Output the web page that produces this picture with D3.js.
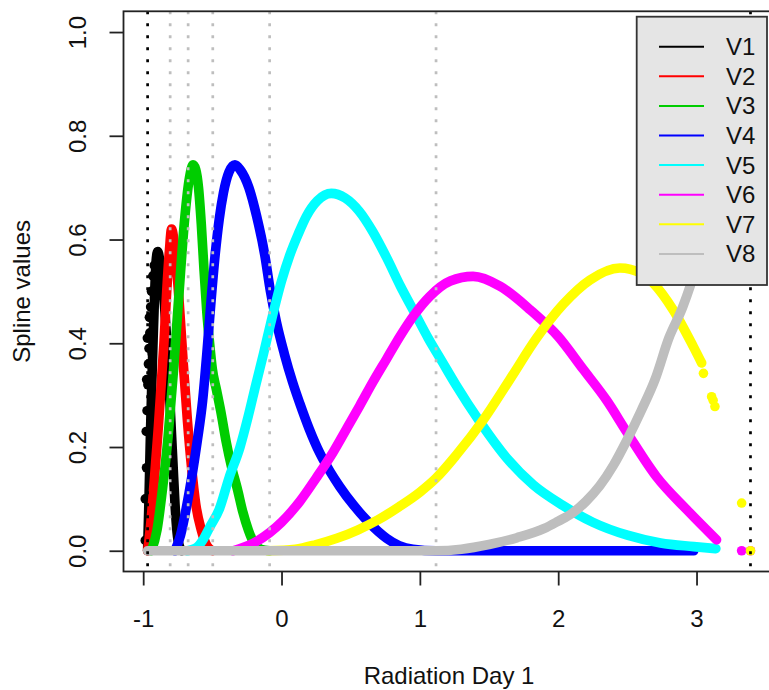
<!DOCTYPE html>
<html>
<head>
<meta charset="utf-8">
<script src="https://cdn.jsdelivr.net/npm/d3@7/dist/d3.min.js"></script>
<style>
  body { margin: 0; background: #fff; }
  text { font-family: "Liberation Sans", Arial, sans-serif; fill: #111; }
</style>
</head>
<body>
<script>
var w = 769
var h = 690

// spline basis values, [x, y]
var seriesNames = ["V1", "V2", "V3", "V4", "V5", "V6", "V7", "V8"]
var seriesColors = ["#000000", "#ff0000", "#00cd00", "#0000ff", "#00ffff", "#ff00ff", "#ffff00", "#bebebe"]

var v1 = [[-0.968,0],[-0.958,0.10],[-0.948,0.22],[-0.938,0.32],[-0.928,0.41],[-0.918,0.49],[-0.906,0.56],
  [-0.895,0.577],[-0.88,0.56],[-0.86,0.52],[-0.84,0.45],[-0.82,0.36],[-0.80,0.25],[-0.785,0.17],
  [-0.77,0.09],[-0.755,0.035],[-0.74,0.01],[-0.72,0]]
var v1Dots = [[-0.985,0.10],[-0.978,0.23],[-0.972,0.27],[-0.966,0.32],[-0.962,0.36],[-0.958,0.39],
  [-0.952,0.42],[-0.946,0.47],[-0.94,0.50],[-0.985,0.02],[-0.976,0.16],[-0.97,0.41],[-0.975,0.33],
  [-0.93,0.53],[-0.92,0.55],[-0.955,0.45],[-0.935,0.38],[-0.925,0.30]]
var v2 = [[-0.968,0],[-0.95,0.04],[-0.93,0.10],[-0.91,0.17],[-0.89,0.24],[-0.87,0.32],[-0.85,0.40],
  [-0.83,0.50],[-0.81,0.58],[-0.795,0.62],[-0.77,0.58],[-0.74,0.48],[-0.71,0.36],[-0.68,0.25],
  [-0.65,0.16],[-0.62,0.09],[-0.58,0.04],[-0.54,0.01],[-0.50,0]]
var v3 = [[-0.94,0],[-0.90,0.04],[-0.86,0.12],[-0.82,0.22],[-0.78,0.35],[-0.74,0.50],[-0.70,0.64],
  [-0.665,0.72],[-0.64,0.744],[-0.62,0.735],[-0.60,0.70],[-0.58,0.63],[-0.56,0.54],[-0.54,0.46],
  [-0.52,0.40],[-0.50,0.35],[-0.47,0.31],[-0.44,0.27],[-0.40,0.21],[-0.36,0.16],[-0.32,0.12],
  [-0.28,0.075],[-0.24,0.04],[-0.20,0.015],[-0.15,0.003],[-0.086,0]]
var v4 = [[-0.77,0],[-0.73,0.03],[-0.69,0.08],[-0.65,0.14],[-0.61,0.21],[-0.57,0.29],[-0.54,0.38],
  [-0.51,0.48],[-0.48,0.57],[-0.45,0.64],[-0.42,0.69],[-0.38,0.73],[-0.337,0.744],[-0.30,0.735],
  [-0.236,0.70],[-0.18,0.645],[-0.121,0.57],[-0.08,0.50],[-0.036,0.44],[0.02,0.38],[0.08,0.325],
  [0.132,0.284],[0.20,0.235],[0.277,0.188],[0.35,0.153],[0.42,0.124],[0.52,0.088],[0.615,0.059],
  [0.70,0.037],[0.76,0.024],[0.85,0.01],[0.95,0.003],[1.117,0],[2.0,0],[2.98,0]]
var v5 = [[-0.68,0],[-0.62,0.005],[-0.57,0.02],[-0.52,0.045],[-0.45,0.08],[-0.38,0.14],[-0.30,0.20],
  [-0.24,0.26],[-0.186,0.32],[-0.13,0.38],[-0.077,0.44],[0.0,0.52],[0.06,0.57],[0.12,0.61],
  [0.18,0.645],[0.26,0.675],[0.36,0.689],[0.46,0.68],[0.56,0.655],[0.66,0.615],[0.76,0.565],
  [0.86,0.51],[0.96,0.46],[1.06,0.41],[1.16,0.365],[1.26,0.32],[1.43,0.25],[1.63,0.178],
  [1.82,0.127],[2.03,0.088],[2.25,0.055],[2.5,0.03],[2.74,0.015],[2.98,0.008],[3.14,0.004]]
var v6 = [[-0.35,0],[-0.2,0.015],[-0.086,0.035],[0.0,0.055],[0.132,0.095],[0.25,0.14],[0.373,0.19],
  [0.47,0.235],[0.566,0.28],[0.66,0.325],[0.76,0.37],[0.86,0.415],[0.96,0.455],[1.07,0.49],
  [1.22,0.52],[1.385,0.529],[1.58,0.51],[1.8,0.464],[2.0,0.413],[2.18,0.35],[2.35,0.29],
  [2.5,0.227],[2.71,0.143],[2.93,0.079],[3.145,0.021]]
var v6Dots = [[3.326,0],[3.39,0]]
var v7 = [[-0.1,0],[0.1,0.003],[0.25,0.012],[0.4,0.024],[0.55,0.04],[0.7,0.06],[0.85,0.085],
  [1.0,0.113],[1.117,0.14],[1.265,0.185],[1.458,0.252],[1.65,0.33],[1.844,0.41],[2.036,0.475],
  [2.23,0.522],[2.446,0.545],[2.6,0.535],[2.687,0.516],[2.832,0.464],[2.976,0.394],[3.037,0.362]]
var v7Dots = [[3.05,0.342],[3.109,0.297],[3.12,0.29],[3.133,0.278],[3.326,0.092],[3.39,0]]
var v8 = [[-0.968,0],[1.117,0],[1.3,0.003],[1.5,0.012],[1.7,0.025],[1.9,0.043],[2.0,0.057],
  [2.1,0.072],[2.2,0.095],[2.3,0.125],[2.4,0.165],[2.5,0.215],[2.6,0.27],[2.7,0.33],[2.8,0.41],
  [2.9,0.47],[3.0,0.55],[3.1,0.66],[3.2,0.78],[3.326,0.9],[3.39,1.0]]

var seriesLines = [v1, v2, v3, v4, v5, v6, v7, v8]
var seriesDots = [v1Dots, [], [], [], [], v6Dots, v7Dots, []]

var boundaryKnots = [-0.968, 3.39]
var innerKnots = [-0.805, -0.675, -0.497, -0.086, 1.117]
var xTicks = [-1, 0, 1, 2, 3]
var yTicks = [0, 0.2, 0.4, 0.6, 0.8, 1.0]

var margin = {left: 123.5, top: 11.3, bottom: 571.5}
var span = boundaryKnots[1] - boundaryKnots[0]

var svg = d3.select("body")
            .append("svg")
            .attr("width", w)
            .attr("height", h)

svg.append("rect").attr("width", w).attr("height", h).attr("fill", "white")

// R style 4% padding
var x = d3.scaleLinear()
          .domain([boundaryKnots[0] - 0.04 * span, boundaryKnots[1] + 0.04 * span])
          .range([margin.left, 774.6])
var y = d3.scaleLinear()
          .domain([-0.04, 1.04])
          .range([margin.bottom, margin.top])

var plot = svg.append("g")

var line = d3.line()
             .x(function(d) {return x(d[0])})
             .y(function(d) {return y(d[1])})
             .curve(d3.curveMonotoneX)

for(i = 0; i < seriesLines.length; i++) {
  plot.append("path")
    .attr("d", line(seriesLines[i]))
    .attr("fill", "none")
    .attr("stroke", seriesColors[i])
    .attr("stroke-width", 9.6)
    .attr("stroke-linecap", "round")
    .attr("stroke-linejoin", "round")

  plot.selectAll(null)
    .data(seriesDots[i])
    .enter().append("circle")
    .attr("cx", function(d) {return x(d[0])})
    .attr("cy", function(d) {return y(d[1])})
    .attr("r", 4.8)
    .attr("fill", seriesColors[i])
}

// knot lines (drawn over the points)
plot.selectAll(".inner")
  .data(innerKnots)
  .enter().append("line")
  .attr("x1", function(d) {return x(d)})
  .attr("x2", function(d) {return x(d)})
  .attr("y1", margin.top)
  .attr("y2", margin.bottom)
  .attr("stroke", "#bebebe")
  .attr("stroke-width", 2.7)
  .attr("stroke-dasharray", "3,9")

plot.selectAll(".bound")
  .data(boundaryKnots)
  .enter().append("line")
  .attr("x1", function(d) {return x(d)})
  .attr("x2", function(d) {return x(d)})
  .attr("y1", margin.top)
  .attr("y2", margin.bottom)
  .attr("stroke", "black")
  .attr("stroke-width", 2.7)
  .attr("stroke-dasharray", "3,9")

// box
svg.append("rect")
  .attr("x", margin.left)
  .attr("y", margin.top)
  .attr("width", 774.6 - margin.left)
  .attr("height", margin.bottom - margin.top)
  .attr("fill", "none")
  .attr("stroke", "#222")
  .attr("stroke-width", 1.8)

// axes
var xAxis = svg.append("g")
  .attr("transform", "translate(0," + margin.bottom + ")")
  .call(d3.axisBottom(x).tickValues(xTicks).tickSize(14).tickPadding(24).tickFormat(function(d) {return String(d)}))
xAxis.select(".domain").remove()
xAxis.selectAll("line").attr("stroke", "#222").attr("stroke-width", 1.8)
xAxis.selectAll("text")
  .attr("font-size", "24px")
  .attr("font-family", "Liberation Sans, Arial, sans-serif")
  .attr("fill", "#111")

var yAxis = svg.append("g")
  .attr("transform", "translate(" + margin.left + ",0)")
  .call(d3.axisLeft(y).tickValues(yTicks).tickSize(14).tickFormat(d3.format(".1f")))
yAxis.select(".domain").remove()
yAxis.selectAll("line").attr("stroke", "#222").attr("stroke-width", 1.8)
yAxis.selectAll("text")
  .attr("font-size", "24px")
  .attr("font-family", "Liberation Sans, Arial, sans-serif")
  .attr("fill", "#111")
  .attr("text-anchor", "middle")
  .attr("dy", null)
  .attr("x", null)
  .attr("transform", "translate(-37.5,0) rotate(-90)")

svg.append("text")
  .text("Radiation Day 1")
  .attr("x", (margin.left + 774.6) / 2)
  .attr("y", 684)
  .attr("text-anchor", "middle")
  .attr("font-size", "24px")

svg.append("text")
  .text("Spline values")
  .attr("text-anchor", "middle")
  .attr("font-size", "24px")
  .attr("transform", "translate(30," + y(0.5) + ") rotate(-90)")

// legend
var legend = svg.append("g")
legend.append("rect")
  .attr("x", 636.7)
  .attr("y", 16.7)
  .attr("width", 130.3)
  .attr("height", 268.3)
  .attr("fill", "#e5e5e5")
  .attr("stroke", "#333")
  .attr("stroke-width", 1.8)

var rows = legend.selectAll(".row")
  .data(seriesNames)
  .enter().append("g")
  .attr("transform", function(d, i) {return "translate(0," + (46.7 + i * 29.6) + ")"})

rows.append("line")
  .attr("x1", 659)
  .attr("x2", 704)
  .attr("stroke", function(d, i) {return seriesColors[i]})
  .attr("stroke-width", 2)

rows.append("text")
  .text(function(d) {return d})
  .attr("x", 726)
  .attr("y", 8.5)
  .attr("font-size", "24px")
</script>
</body>
</html>
